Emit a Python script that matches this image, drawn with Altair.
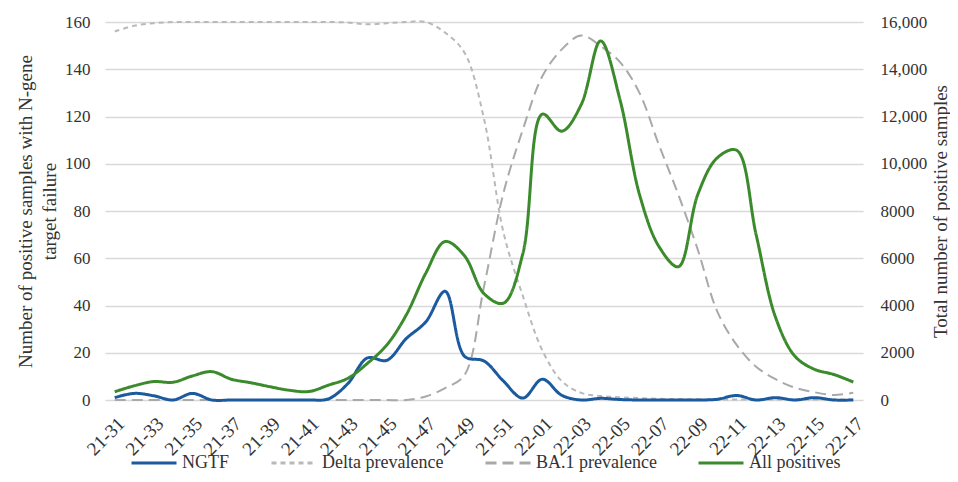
import altair as alt
import pandas as pd

weeks = ["21-31", "21-32", "21-33", "21-34", "21-35", "21-36", "21-37", "21-38", "21-39", "21-40",
         "21-41", "21-42", "21-43", "21-44", "21-45", "21-46", "21-47", "21-48", "21-49", "21-50",
         "21-51", "21-52", "22-01", "22-02", "22-03", "22-04", "22-05", "22-06", "22-07", "22-08",
         "22-09", "22-10", "22-11", "22-12", "22-13", "22-14", "22-15", "22-16", "22-17"]

tick_labels = ["21-31", "21-33", "21-35", "21-37", "21-39", "21-41", "21-43", "21-45", "21-47", "21-49",
               "21-51", "22-01", "22-03", "22-05", "22-07", "22-09", "22-11", "22-13", "22-15", "22-17"]

ngtf = [1, 2.8, 1.8, 0, 2.8, 0, 0, 0, 0, 0, 0, 0.5, 7, 17.8, 16.8, 26, 33, 46, 18.5, 16.5,
        8, 0.8, 8.8, 2, 0, 0.7, 0.2, 0, 0, 0, 0, 0.3, 1.9, 0, 1, 0, 1, 0, 0]

delta = [156, 158.4, 159.5, 160, 160, 160, 160, 160, 160, 160, 160, 160, 159.8, 159, 159.5, 160, 160,
         155.5, 147, 119, 71, 44, 21, 8, 3, 1.7, 1.2, 0.8, 0.5, 0.4, 0.3, 0.2, 0.2, 0.2, 0.2, 0.2,
         0.2, 0.2, 0.2]

ba1 = [0, 0, 0, 0, 0, 0, 0, 0, 0, 0, 0, 0, 0, 0, 0, 0, 1.5, 5, 10.6, 48, 87.6, 114.5, 137, 148.4,
       154.3, 149.8, 143, 130, 108, 86.9, 63.6, 37.5, 23.3, 14.1, 8.8, 5.2, 3.3, 2.1, 3.1]

all_positives = [350, 600, 780, 750, 1020, 1200, 880, 730, 560, 410, 360, 630, 920, 1550, 2330, 3600,
                 5360, 6710, 6100, 4500, 4100, 6200, 12100, 11380, 12500, 15200, 12700, 8700, 6500,
                 5640, 8700, 10250, 10570, 7000, 3500, 1850, 1300, 1080, 760]

series_names = ["NGTF", "Delta prevalence", "BA.1 prevalence", "All positives"]
series_colors = ["#1b5a9e", "#b9b9b9", "#a9a9a9", "#3b8b2c"]
series_dashes = [[1, 0], [5, 4], [11, 6], [1, 0]]

FONT = "Liberation Serif"
TXT = "#333333"

left_rows = []
for name, vals in [("NGTF", ngtf), ("Delta prevalence", delta), ("BA.1 prevalence", ba1)]:
    for w, v in zip(weeks, vals):
        left_rows.append({"week": w, "value": v, "series": name})
left_df = pd.DataFrame(left_rows)
right_df = pd.DataFrame({"week": weeks, "total": all_positives, "series": "All positives"})

x_enc = alt.X("week:O", sort=weeks, scale=alt.Scale(type="point", padding=0.5),
              axis=alt.Axis(values=tick_labels, title=None, labelAngle=315, labelAlign="right",
                            labelBaseline="top", labelPadding=14, labelFontSize=19, labelFont=FONT,
                            labelColor=TXT, ticks=False, domain=False, grid=False))

legend_cfg = dict(orient="none", legendX=25, legendY=417, direction="horizontal",
                  columns=4, title=None, symbolType="stroke", symbolSize=2025,
                  symbolStrokeWidth=3, labelFontSize=18, labelFont=FONT,
                  labelColor=TXT, columnPadding=35, labelOffset=4)

color_enc = alt.Color("series:N", scale=alt.Scale(domain=series_names, range=series_colors),
                      legend=alt.Legend(**legend_cfg))
dash_enc = alt.StrokeDash("series:N", scale=alt.Scale(domain=series_names, range=series_dashes),
                          legend=alt.Legend(**legend_cfg))

y_left = alt.Y("value:Q", scale=alt.Scale(domain=[0, 160]),
               axis=alt.Axis(values=[0, 20, 40, 60, 80, 100, 120, 140, 160],
                             title=["Number of positive samples with N-gene", "target failure"],
                             titleFontSize=19, titleFont=FONT, titleFontWeight="normal", titleColor=TXT,
                             titleLineHeight=24, titlePadding=5, labelFontSize=17, labelFont=FONT,
                             labelColor=TXT, labelPadding=15, ticks=False, domain=False, grid=True,
                             gridColor="#d9d9d9", gridWidth=1.3))

base_left = alt.Chart(left_df).encode(x=x_enc, y=y_left, color=color_enc, strokeDash=dash_enc)

ngtf_layer = base_left.transform_filter(alt.datum.series == "NGTF").mark_line(
    interpolate="catmull-rom", strokeWidth=3)
prev_layer = base_left.transform_filter(alt.datum.series != "NGTF").mark_line(
    interpolate="catmull-rom", strokeWidth=2)

y_right = alt.Y("total:Q", scale=alt.Scale(domain=[0, 16000]),
                axis=alt.Axis(orient="right", values=[0, 2000, 4000, 6000, 8000, 10000, 12000, 14000, 16000],
                              labelExpr="datum.value >= 10000 ? format(datum.value, ',') : format(datum.value, 'd')",
                              title="Total number of positive samples", titleAngle=270, titleBaseline="top",
                              titleFontSize=19, titleFont=FONT, titleFontWeight="normal", titleColor=TXT,
                              titlePadding=5, labelFontSize=17, labelFont=FONT, labelColor=TXT,
                              labelPadding=17, ticks=False, domain=False, grid=False))

green_layer = alt.Chart(right_df).mark_line(interpolate="catmull-rom", strokeWidth=3).encode(
    x=x_enc, y=y_right, color=color_enc, strokeDash=dash_enc)

left = alt.layer(prev_layer, ngtf_layer)
chart = alt.layer(left, green_layer).resolve_scale(y="independent").properties(
    width=758, height=378,
    padding={"left": 97, "top": 14, "right": 87, "bottom": 74},
    autosize=alt.AutoSizeParams(type="none"),
    background="white",
).configure_view(stroke=None)

chart.save("out.html", embed_options={"renderer": "svg", "actions": False})
